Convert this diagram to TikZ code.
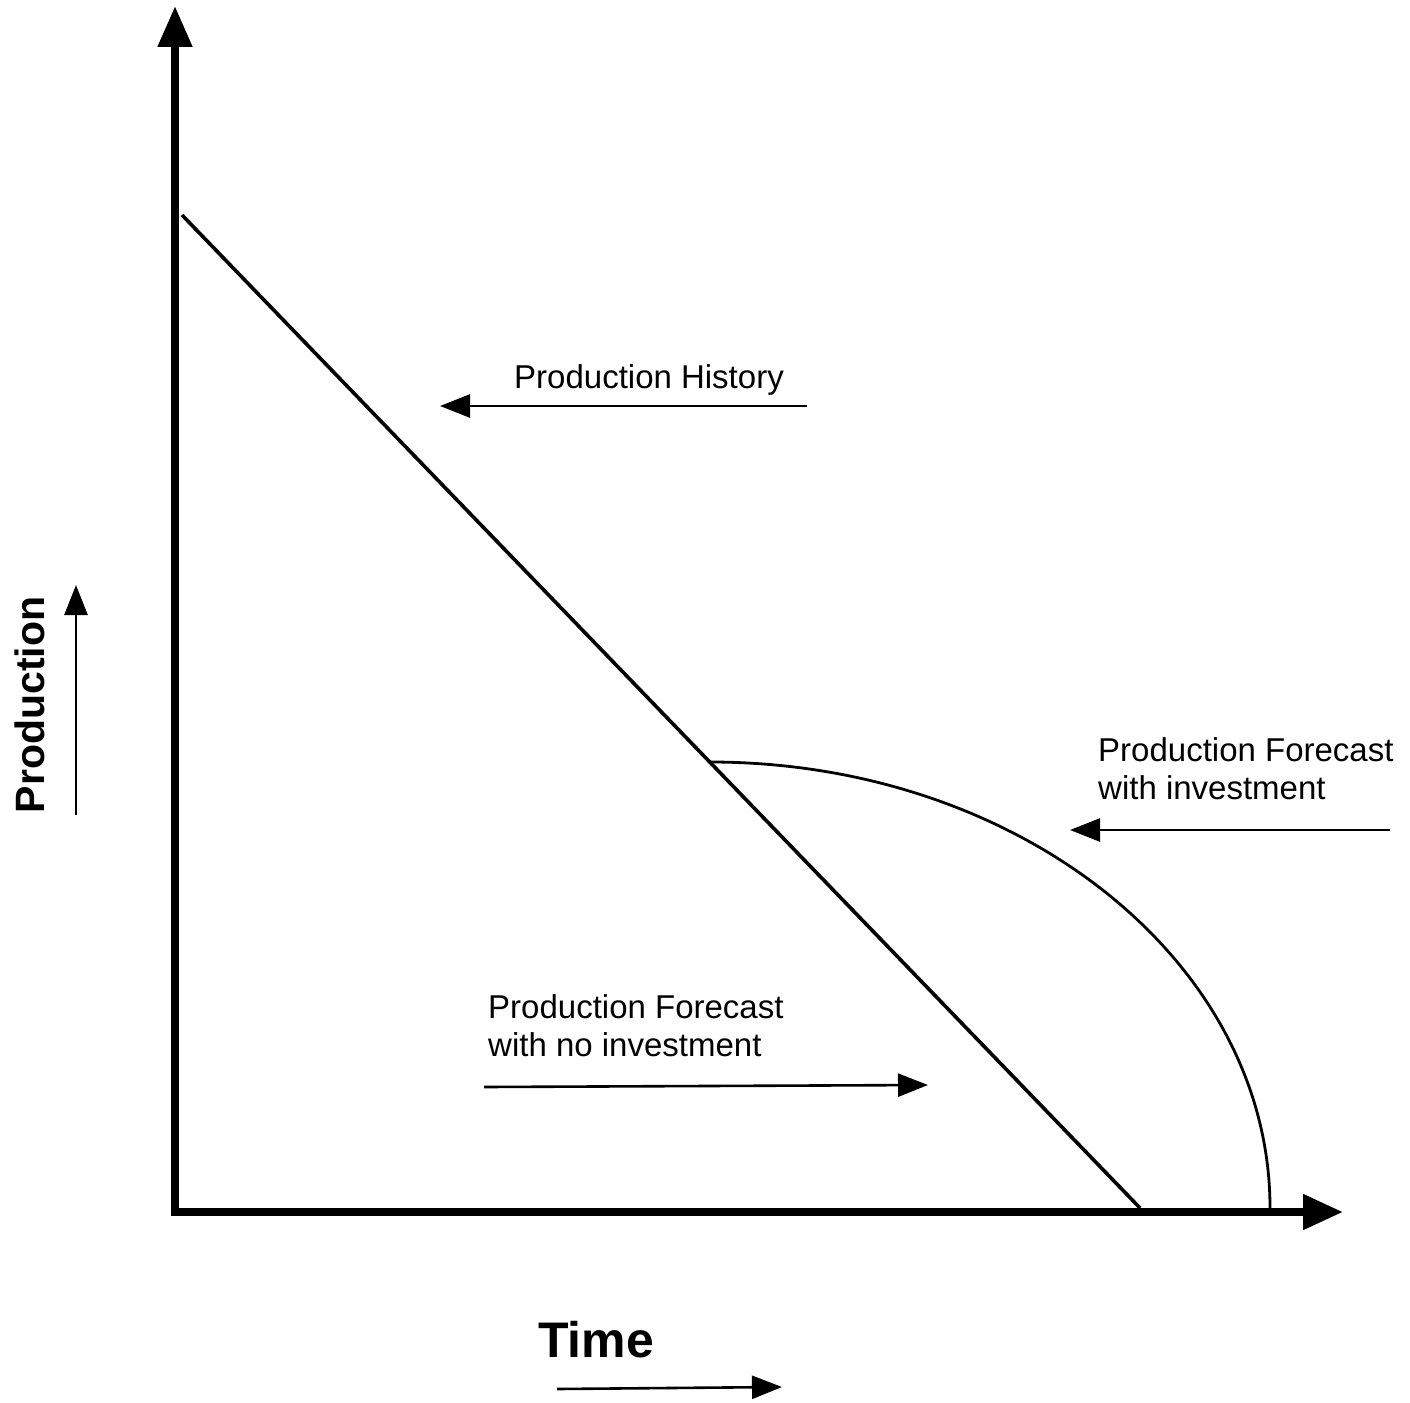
\documentclass[tikz,border=0pt]{standalone}
\usepackage{fontspec}
\setmainfont{Liberation Sans}
\usetikzlibrary{arrows.meta}
\begin{document}
\begin{tikzpicture}[x=1pt,y=-1pt,
  axisline/.style={line width=8pt, line join=miter},
  mainline/.style={line width=3.6pt},
  curveline/.style={line width=2.8pt},
  lblarrow/.style={line width=2.6pt, -{Triangle[length=30pt,width=23pt]}},
  lbl/.style={inner sep=0pt, anchor=base west, font=\fontsize{33}{38}\selectfont, align=left},
]
\useasboundingbox (0,0) rectangle (1410,1402);
\fill[white] (0,0) rectangle (1410,1402);

% axes
\coordinate (O) at (175,1212);
\coordinate (Ytip) at (175,6);
\coordinate (Xtip) at (1343,1212);
\draw[axisline, {Triangle[length=41pt,width=33pt]}-{Triangle[length=40pt,width=34pt]}] (Ytip) -- (O) -- (Xtip);

% production history line
\coordinate (H0) at (182,215);
\coordinate (H1) at (1140,1208);
\draw[mainline] (H0) -- (H1);

% forecast with investment curve
\coordinate (B) at (710,762);
\draw[curveline] (B) arc[start angle=270, end angle=360, x radius=560, y radius=446];

% labels (base anchor of a two-line node is the last line's baseline)
\node[lbl] (hist) at (514,388) {Production History};
\node[lbl] (inv) at (1098,799) {Production Forecast\\with investment};
\node[lbl] (noinv) at (488,1056) {Production Forecast\\with no investment};
\node[inner sep=0pt, anchor=base west, font=\fontsize{50}{60}\selectfont\bfseries] (time) at (538,1357) {Time};
\node[rotate=90, inner sep=0pt, font=\fontsize{41}{48}\selectfont\bfseries] (prod) at (30,705) {Production};

% label arrows
\coordinate (hS) at (807,406); \coordinate (hE) at (440,406);
\coordinate (iS) at (1390,830); \coordinate (iE) at (1070,830);
\coordinate (nS) at (484,1087); \coordinate (nE) at (928,1085);
\coordinate (tS) at (557,1389); \coordinate (tE) at (782,1387);
\coordinate (pS) at (76,815); \coordinate (pE) at (76,585);
\draw[lblarrow] (hS) -- (hE);
\draw[lblarrow] (iS) -- (iE);
\draw[lblarrow] (nS) -- (nE);
\draw[lblarrow] (tS) -- (tE);
\draw[lblarrow] (pS) -- (pE);
\end{tikzpicture}
\end{document}
